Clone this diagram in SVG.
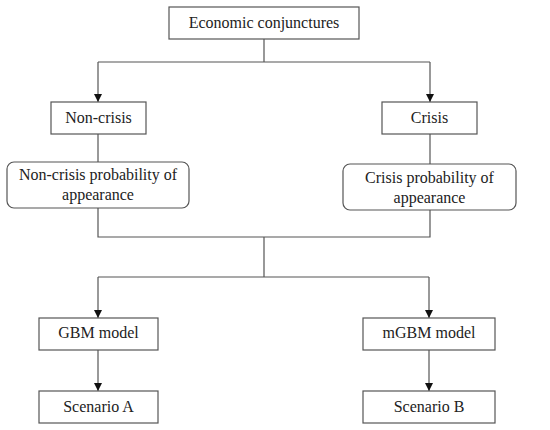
<svg xmlns="http://www.w3.org/2000/svg" width="550" height="430" viewBox="0 0 550 430">
<style>
.box{fill:#fff;stroke:#555;stroke-width:1.2}
.t{font-size:16px;fill:#222;text-anchor:middle}
.c{fill:none;stroke:#555;stroke-width:1.2}
</style>
<defs>
<marker id="ah" viewBox="0 0 10 10" refX="10" refY="5" markerWidth="8" markerHeight="8" markerUnits="userSpaceOnUse" orient="auto">
<path d="M0,0 L10,5 L0,10 Z" fill="#111"/>
</marker>
</defs>
<rect width="550" height="430" fill="#fff"/>
<g id="connectors">
<path class="c" d="M264,39 V62 M98,62 H430"/>
<path class="c" d="M98,62 V102" marker-end="url(#ah)"/>
<path class="c" d="M430,62 V102" marker-end="url(#ah)"/>
<path class="c" d="M98,134 V162"/>
<path class="c" d="M430,134 V164"/>
<path class="c" d="M98,208 V237 H430 V210 M264,237 V277 M98,277 H429"/>
<path class="c" d="M98,277 V318" marker-end="url(#ah)"/>
<path class="c" d="M429,277 V318" marker-end="url(#ah)"/>
<path class="c" d="M98,350 V391" marker-end="url(#ah)"/>
<path class="c" d="M429,350 V391" marker-end="url(#ah)"/>
</g>
<g font-family="Liberation Serif, Times New Roman, serif">
<g id="economic">
<rect class="box" x="169" y="7" width="190" height="32"/>
<text class="t" x="264" y="28" font-family="Liberation Serif">Economic conjunctures</text>
</g>
<g id="noncrisis">
<rect class="box" x="51" y="102" width="95" height="32"/>
<text class="t" x="98.5" y="123" font-family="Liberation Serif">Non-crisis</text>
</g>
<g id="crisis">
<rect class="box" x="382" y="102" width="95" height="32"/>
<text class="t" x="429.5" y="123" font-family="Liberation Serif">Crisis</text>
</g>
<g id="noncrisis-prob">
<rect class="box" x="7" y="162" width="182" height="46" rx="7"/>
<text class="t" x="98" y="180" font-family="Liberation Serif">Non-crisis probability of</text>
<text class="t" x="98" y="200" font-family="Liberation Serif">appearance</text>
</g>
<g id="crisis-prob">
<rect class="box" x="343" y="164" width="173" height="46" rx="7"/>
<text class="t" x="429.5" y="183" font-family="Liberation Serif">Crisis probability of</text>
<text class="t" x="429.5" y="203" font-family="Liberation Serif">appearance</text>
</g>
<g id="gbm">
<rect class="box" x="39" y="318" width="119" height="32"/>
<text class="t" x="98.5" y="338" font-family="Liberation Serif">GBM model</text>
</g>
<g id="mgbm">
<rect class="box" x="363" y="318" width="132" height="32"/>
<text class="t" x="429" y="338" font-family="Liberation Serif">mGBM model</text>
</g>
<g id="scenarioA">
<rect class="box" x="39" y="391" width="119" height="32"/>
<text class="t" x="98.5" y="412" font-family="Liberation Serif">Scenario A</text>
</g>
<g id="scenarioB">
<rect class="box" x="363" y="391" width="132" height="32"/>
<text class="t" x="429" y="412" font-family="Liberation Serif">Scenario B</text>
</g>
</g>
</svg>
